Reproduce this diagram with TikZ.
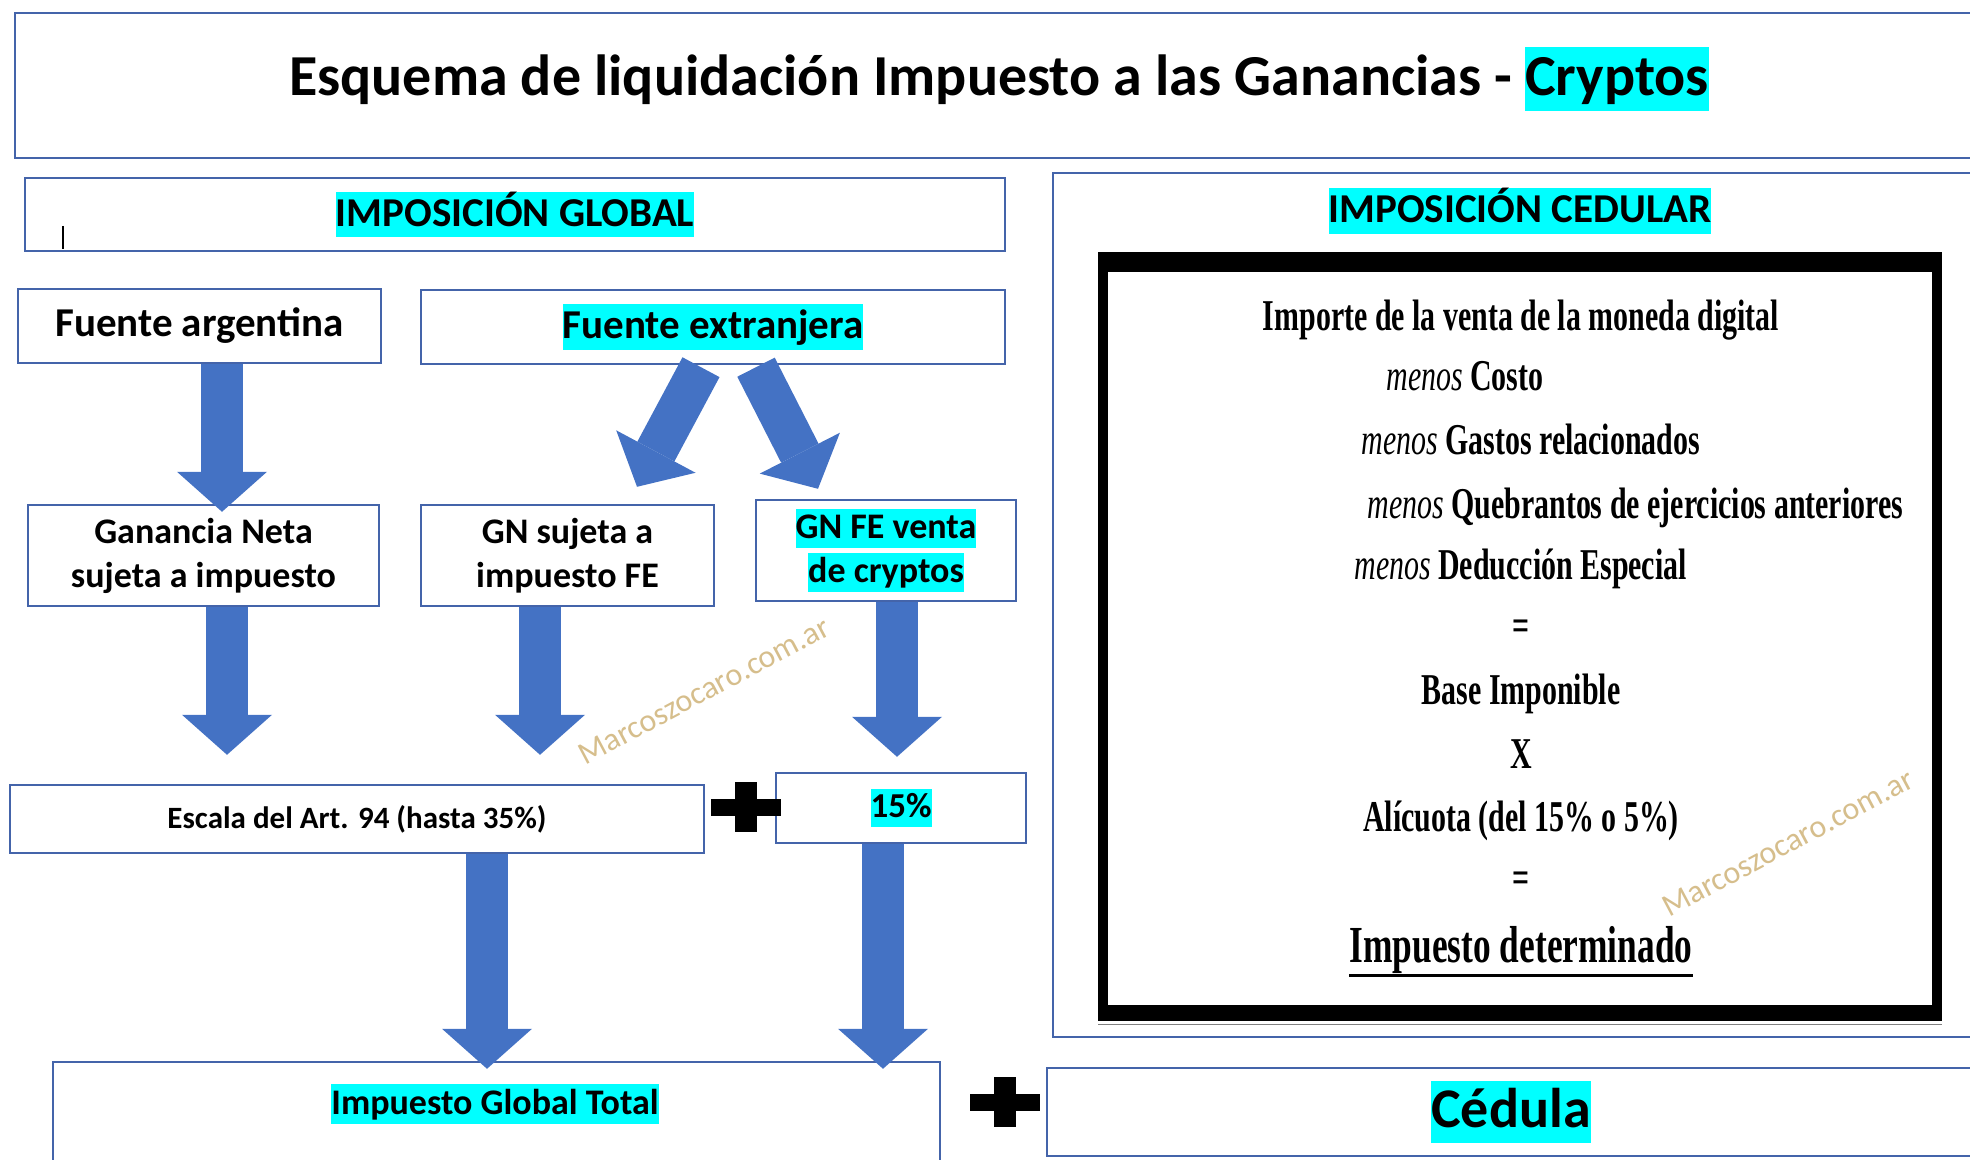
\documentclass[tikz,border=0pt]{standalone}
\usepackage{fontspec}
\setmainfont{Carlito}
\newfontfamily\condserif[FakeStretch=0.68]{Liberation Serif}
\usetikzlibrary{arrows.meta}

\definecolor{boxblue}{RGB}{68,100,170}
\definecolor{arrowblue}{RGB}{68,114,196}
\definecolor{hlcyan}{RGB}{0,255,255}
\definecolor{wmtan}{RGB}{214,190,140}

% cyan highlight behind a word
\newcommand{\hlt}[1]{{\setlength{\fboxsep}{0pt}\colorbox{hlcyan}{\rule[-0.27em]{0pt}{1.1em}#1}}}
\newcommand{\fsz}[1]{\fontsize{#1}{1.2\dimexpr#1pt\relax}\selectfont}

\tikzset{
  box/.style={draw=boxblue, line width=1.2pt, fill=white, inner sep=0pt, align=center, font=\bfseries},
  fatarrow/.style={arrowblue, line width=21pt, -{Triangle[width=45pt,length=20pt,line width=0pt]}},
  watermark/.style={text=wmtan, font=\fsz{16}, rotate=28, inner sep=0pt},
  cedline/.style={font=\condserif\bfseries\fsz{22}, inner sep=0pt, anchor=base},
  heavyplus/.pic={
    \fill (-35,-8.5) rectangle (35,8.5);
    \fill (-11,-25) rectangle (11,25);
  },
}

\begin{document}
\begin{tikzpicture}[x=0.5pt, y=-0.5pt]
\useasboundingbox (0,0) rectangle (1970,1160);

% title
\node (titlebox) [box, minimum width=980pt, minimum height=72.5pt] at (995,85.5) {};
\node (title) [font=\bfseries\fsz{29}] at (999,79) {Esquema de liquidación Impuesto a las Ganancias - \hlt{Cryptos}};

% imposicion global
\node (globalhdr) [box, minimum width=490pt, minimum height=36.5pt, font=\bfseries\fsz{20.5}] at (515,214.5) {\hlt{IMPOSICIÓN GLOBAL}};
\draw[line width=0.6pt] (63,226) -- (63,249);

\node (argentina) [box, minimum width=181.5pt, minimum height=37pt, font=\bfseries\fsz{20.5}] at (199.5,326) {Fuente argentina};
\node (extranjera) [box, minimum width=292pt, minimum height=37pt, font=\bfseries\fsz{20.5}] at (713,327) {\hlt{Fuente extranjera}};

\node (neta) [box, minimum width=175.5pt, minimum height=50.5pt, font=\bfseries\fontsize{18}{22}\selectfont] at (203.5,555.5) {Ganancia Neta\\sujeta a impuesto};
\node (gnfe) [box, minimum width=146.5pt, minimum height=50.5pt, font=\bfseries\fontsize{18}{22}\selectfont] at (567.5,555.5) {GN sujeta a\\impuesto FE};
\node (gncrypto) [box, minimum width=130pt, minimum height=50.5pt, font=\bfseries\fontsize{18}{22}\selectfont] at (886,550.5) {\hlt{GN FE venta}\\\hlt{de cryptos}};

\node (escala) [box, minimum width=347pt, minimum height=34pt, font=\bfseries\fsz{15.5}] at (357,819) {Escala del Art. 94 (hasta 35\%)};
\node (quince) [box, minimum width=125pt, minimum height=35pt, font=\bfseries\fsz{17.5}] at (901,808) {\hlt{15\%}};
\pic at (746,807) {heavyplus};

\node (globaltotal) [box, minimum width=443.5pt, minimum height=56.5pt] at (496.5,1118.5) {};
\node (globaltxt) [font=\bfseries\fsz{18}] at (495,1104) {\hlt{Impuesto Global Total}};

% arrows
\draw[fatarrow] ([xshift=11.25pt]argentina.south) -- ([xshift=9.25pt,yshift=-4pt]neta.north);
\draw[fatarrow] ([xshift=-6pt,yshift=-1pt]extranjera.south) -- ([xshift=34.75pt,yshift=8.5pt]gnfe.north);
\draw[fatarrow] ([xshift=21.5pt,yshift=-1pt]extranjera.south) -- ([xshift=-34pt,yshift=5pt]gncrypto.north);
\draw[fatarrow] ([xshift=11.75pt]neta.south) -- ([xshift=-65pt,yshift=14.5pt]escala.north);
\draw[fatarrow] ([xshift=-13.75pt]gnfe.south) -- ([xshift=91.5pt,yshift=14.5pt]escala.north);
\draw[fatarrow] ([xshift=5.5pt]gncrypto.south) -- ([xshift=-2pt,yshift=7.5pt]quince.north);
\draw[fatarrow] ([xshift=65pt]escala.south) -- ([xshift=-4.75pt,yshift=-4pt]globaltotal.north);
\draw[fatarrow] ([xshift=-9pt]quince.south) -- ([xshift=193.25pt,yshift=-4pt]globaltotal.north);

% imposicion cedular
\node (cedular) [box, minimum width=461pt, minimum height=432pt] at (1514,605) {};
\node (cedhdr) [font=\bfseries\fsz{20.5}] at (1520,211) {\hlt{IMPOSICIÓN CEDULAR}};
\fill (1098,252) rectangle (1942,1021);
\fill[white] (1108,272) rectangle (1932,1005);
\draw[gray, line width=0.5pt] (1098,1024) -- (1942,1024);

\node (importe) [cedline] at (1521,331) {Importe de la venta de la moneda digital};
\node (costo) [cedline, anchor=base west] at (1386,391) {\mdseries\itshape menos \upshape\bfseries Costo};
\node (gastos) [cedline, anchor=base west] at (1361,454) {\mdseries\itshape menos \upshape\bfseries Gastos relacionados};
\node (quebrantos) [cedline, anchor=base west] at (1367,518) {\mdseries\itshape menos \upshape\bfseries Quebrantos de ejercicios anteriores};
\node (deduccion) [cedline, anchor=base west] at (1354,579) {\mdseries\itshape menos \upshape\bfseries Deducción Especial};
\node (igual1) [cedline] at (1521,640) {=};
\node (base) [cedline] at (1521,704) {Base Imponible};
\node (por) [cedline] at (1521,768) {X};
\node (alicuota) [cedline] at (1521,831) {Alícuota (del 15\% o 5\%)};
\node (igual2) [cedline] at (1521,892) {=};
\node (determinado) [cedline, font=\condserif\bfseries\fsz{26}] at (1521,962) {Impuesto determinado};
\draw[line width=1.6pt] ([yshift=-1.2pt]determinado.south west) -- ([yshift=-1.2pt]determinado.south east);

\pic at (1005,1102) {heavyplus};
\node (cedula) [box, minimum width=464pt, minimum height=44pt, font=\bfseries\fsz{28}] at (1511,1112) {\hlt{Cédula}};

% watermarks
\node (wm1) [watermark] at (704,691) {Marcoszocaro.com.ar};
\node (wm2) [watermark] at (1788,843) {Marcoszocaro.com.ar};
\end{tikzpicture}
\end{document}
